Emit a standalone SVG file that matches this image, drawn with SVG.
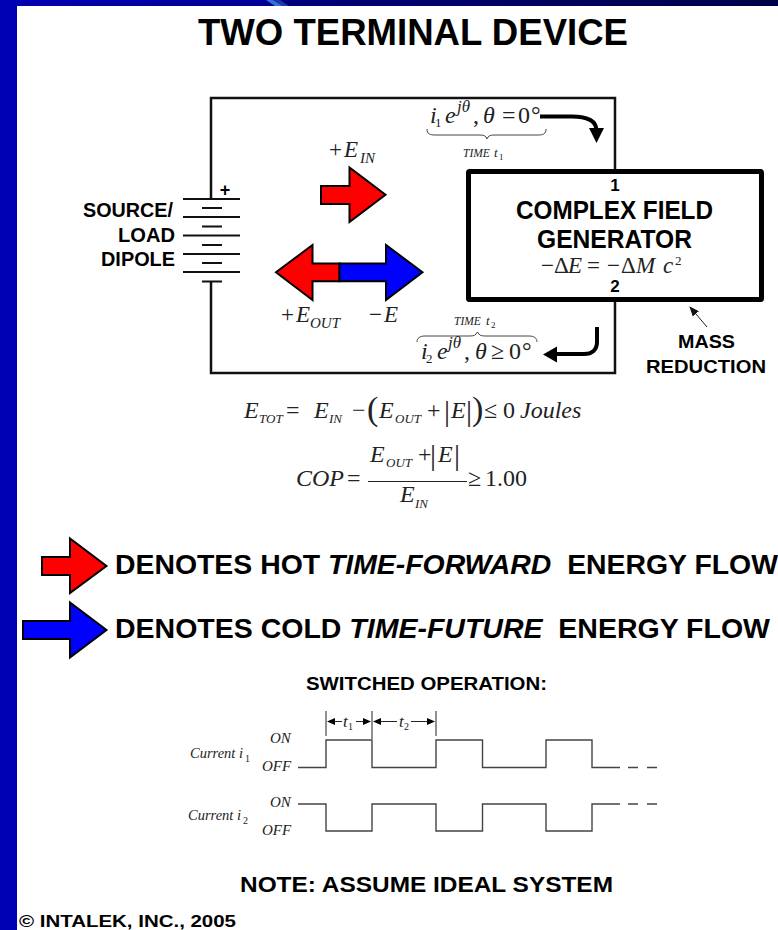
<svg xmlns="http://www.w3.org/2000/svg" width="778" height="930" viewBox="0 0 778 930">
<style>
.b{font-family:"Liberation Sans",Arial,sans-serif;font-weight:700;fill:#000;white-space:pre}
.s{font-family:"Liberation Serif","Times New Roman",serif;fill:#222}
.i{font-style:italic}
.wire{fill:none;stroke:#111;stroke-width:2.5}
.plate{fill:none;stroke:#111;stroke-width:2}
.fat{fill:none;stroke:#000;stroke-width:4}
.wave{fill:none;stroke:#444;stroke-width:1.4}
.thin{fill:none;stroke:#222;stroke-width:1}
.brace{fill:none;stroke:#444;stroke-width:1}
.red{fill:#f00;stroke:#000;stroke-width:2;stroke-linejoin:miter}
.blue{fill:#00f;stroke:#000;stroke-width:2;stroke-linejoin:miter}
</style>
<defs>
<linearGradient id="topbar" x1="0" x2="1" y1="0" y2="0">
<stop offset="0" stop-color="#0000b4"/><stop offset="0.33" stop-color="#000096"/><stop offset="0.38" stop-color="#00007a"/><stop offset="1" stop-color="#000048"/>
</linearGradient>
<marker id="thinhead" markerWidth="10" markerHeight="10" refX="9" refY="5" orient="auto" markerUnits="userSpaceOnUse"><path d="M0 1L10 5L0 9Z" fill="#111"/></marker>
</defs>
<rect width="778" height="930" fill="#fff"/>
<g id="frame">
<rect x="0" y="0" width="778" height="6" fill="url(#topbar)"/>
<rect x="0" y="0" width="17" height="930" fill="#0000b4"/>
<path d="M266 0H273L283 6H275Z" fill="#3a6ce0"/>
<path d="M273 0H280L289 6H283Z" fill="#1c3aa0"/>
</g>
<text id="title" class="b" x="198" y="44.500" font-size="37" textLength="430" lengthAdjust="spacingAndGlyphs">TWO TERMINAL DEVICE</text>

<g id="connectors">
<path class="wire" d="M211 199V98H615V169M615 302V373H211V281"/>
<path class="fat" d="M540 116.500H572C586 116.500 596 120 596.500 130"/>
<path d="M589 128H604L596.500 143Z" fill="#000"/>
<path class="fat" d="M597 327V342C597 350 592 354 584 354H556"/>
<path d="M557 346.500V362.500L543 354.500Z" fill="#000"/>
<path class="thin" d="M707 327L690 307" marker-end="url(#thinhead)"/>
</g>

<g id="battery">
<path class="plate" d="M183 199H240M183 217H240M183 235.500H240M183 254H240M183 272H240"/>
<path class="plate" d="M202 208H222M202 226.500H222M202 245H222M202 263H222M202 281.500H222"/>
<text class="b" x="225" y="196" font-size="18" text-anchor="middle">+</text>
<text class="b" x="83" y="216.500" font-size="20" textLength="90" lengthAdjust="spacingAndGlyphs">SOURCE/</text>
<text class="b" x="118" y="241.500" font-size="20" textLength="57" lengthAdjust="spacingAndGlyphs">LOAD</text>
<text class="b" x="101" y="265.500" font-size="20" textLength="74" lengthAdjust="spacingAndGlyphs">DIPOLE</text>
</g>

<g id="energy-in">
<path class="red" d="M321 186H349.500V167.500L385.500 194.800L349.500 222V204H321Z"/>
<text class="s" x="329" y="157" font-size="23">+</text>
<text class="s i" x="344" y="157" font-size="23">E</text>
<text class="s i" x="360" y="163" font-size="15">IN</text>
</g>

<g id="energy-out">
<path class="red" d="M339.500 263.500H312.500V245L276 272.300L312.500 300V281.300H339.500Z"/>
<path class="blue" d="M339.500 263.500H386V245L422.500 272.300L386 300V281.300H339.500Z"/>
<text class="s" x="281" y="322" font-size="23">+</text>
<text class="s i" x="296" y="322" font-size="23">E</text>
<text class="s i" x="310" y="328" font-size="15">OUT</text>
<text class="s" x="369" y="322" font-size="23">−</text>
<text class="s i" x="384" y="322" font-size="23">E</text>
</g>

<g id="current-i1">
<text class="s i" x="430" y="123" font-size="24">i</text>
<text class="s" x="435" y="127" font-size="13">1</text>
<text class="s i" x="445" y="123" font-size="24">e</text>
<text class="s i" x="457" y="112" font-size="17">jθ</text>
<text class="s" x="473" y="123" font-size="24">,</text>
<text class="s i" x="483" y="123" font-size="24">θ</text>
<text class="s" x="502" y="123" font-size="24">=</text>
<text class="s" x="518" y="123" font-size="24">0</text>
<text class="s" x="531" y="123" font-size="24">°</text>
<path class="brace" d="M427 129C427 134 430 135 435 135H480C484 135 486 136 487 139C488 136 490 135 494 135H538C543 135 546 134 546 129"/>
<text class="s i" x="463" y="157" font-size="11.500">TIME</text>
<text class="s i" x="494" y="157" font-size="13">t</text>
<text class="s" x="499" y="160" font-size="9">1</text>
</g>

<g id="current-i2">
<text class="s i" x="454" y="325" font-size="11.500">TIME</text>
<text class="s i" x="486" y="325" font-size="13">t</text>
<text class="s" x="491" y="328" font-size="9">2</text>
<path class="brace" d="M417 342C417 338 420 336 425 336H470C474 336 476 335 477.500 332C479 335 481 336 485 336H529C534 336 537 338 537 342"/>
<text class="s i" x="421" y="359" font-size="24">i</text>
<text class="s" x="426" y="363" font-size="13">2</text>
<text class="s i" x="437" y="359" font-size="24">e</text>
<text class="s i" x="448" y="348" font-size="17">jθ</text>
<text class="s" x="464" y="359" font-size="24">,</text>
<text class="s i" x="475" y="359" font-size="24">θ</text>
<text class="s" x="491" y="359" font-size="24">≥</text>
<text class="s" x="509" y="359" font-size="24">0</text>
<text class="s" x="522" y="359" font-size="24">°</text>
</g>

<g id="complex-field-generator">
<rect x="468.500" y="171.500" width="293" height="128" rx="1" fill="#fff" stroke="#000" stroke-width="5"/>
<text class="b" x="615" y="191" font-size="17" text-anchor="middle">1</text>
<text class="b" x="516" y="219" font-size="25" textLength="197" lengthAdjust="spacingAndGlyphs">COMPLEX FIELD</text>
<text class="b" x="537" y="248" font-size="25" textLength="155" lengthAdjust="spacingAndGlyphs">GENERATOR</text>
<text class="s" x="541" y="273" font-size="23">−</text>
<text class="s" x="554" y="273" font-size="23">Δ</text>
<text class="s i" x="568" y="273" font-size="23">E</text>
<text class="s" x="587" y="273" font-size="23">=</text>
<text class="s" x="607" y="273" font-size="23">−</text>
<text class="s" x="621" y="273" font-size="23">Δ</text>
<text class="s i" x="636" y="273" font-size="23">M</text>
<text class="s i" x="663" y="273" font-size="23">c</text>
<text class="s" x="675" y="265" font-size="13">2</text>
<text class="b" x="615" y="292" font-size="17" text-anchor="middle">2</text>
</g>

<g id="mass-reduction">
<text class="b" x="678" y="348" font-size="19" textLength="57" lengthAdjust="spacingAndGlyphs">MASS</text>
<text class="b" x="646" y="372.500" font-size="19" textLength="120" lengthAdjust="spacingAndGlyphs">REDUCTION</text>
</g>

<g id="equation-total">
<text class="s i" x="244" y="418" font-size="24">E</text>
<text class="s i" x="259" y="423" font-size="13">TOT</text>
<text class="s" x="286" y="418" font-size="24">=</text>
<text class="s i" x="314" y="418" font-size="24">E</text>
<text class="s i" x="329" y="423" font-size="13">IN</text>
<text class="s" x="352" y="418" font-size="24">−</text>
<text class="s" x="367" y="420" font-size="34">(</text>
<text class="s i" x="379" y="418" font-size="24">E</text>
<text class="s i" x="395" y="423" font-size="13">OUT</text>
<text class="s" x="427" y="418" font-size="24">+</text>
<text class="s" x="444" y="421" font-size="30">|</text>
<text class="s i" x="451" y="418" font-size="24">E</text>
<text class="s" x="466" y="421" font-size="30">|</text>
<text class="s" x="472" y="420" font-size="34">)</text>
<text class="s" x="484" y="418" font-size="24">≤</text>
<text class="s" x="503" y="418" font-size="24">0</text>
<text class="s i" x="520" y="418" font-size="24">Joules</text>
</g>

<g id="equation-cop">
<text class="s i" x="296" y="486" font-size="24">COP</text>
<text class="s" x="347" y="486" font-size="24">=</text>
<text class="s i" x="370" y="462" font-size="24">E</text>
<text class="s i" x="386" y="467" font-size="13">OUT</text>
<text class="s" x="418" y="462" font-size="24">+</text>
<text class="s" x="430" y="465" font-size="30">|</text>
<text class="s i" x="438" y="462" font-size="24">E</text>
<text class="s" x="454" y="465" font-size="30">|</text>
<path d="M368 481.500H467" stroke="#222" stroke-width="1.200" fill="none"/>
<text class="s i" x="400" y="502" font-size="24">E</text>
<text class="s i" x="415" y="508" font-size="13">IN</text>
<text class="s" x="468" y="486" font-size="24">≥</text>
<text class="s" x="485" y="486" font-size="24">1.00</text>
</g>

<g id="legend-hot">
<path class="red" d="M42 557H70V538.500L106.500 566L70 593V575H42Z"/>
<text class="b" x="115" y="573.500" font-size="27" textLength="663" lengthAdjust="spacingAndGlyphs">DENOTES HOT <tspan class="i">TIME-FORWARD</tspan>  ENERGY FLOW</text>
</g>
<g id="legend-cold">
<path class="blue" d="M23 621H70V602.500L106.500 630L70 657.500V639H23Z"/>
<text class="b" x="115" y="637.500" font-size="27" textLength="655" lengthAdjust="spacingAndGlyphs">DENOTES COLD <tspan class="i">TIME-FUTURE</tspan>  ENERGY FLOW</text>
</g>

<g id="switched-operation">
<text class="b" x="306" y="690" font-size="19" textLength="241" lengthAdjust="spacingAndGlyphs">SWITCHED OPERATION:</text>
<path class="thin" d="M326 711V736M372 711V739M436 711V736"/>
<path d="M327 721.500L335 718V725ZM371 721.500L363 718V725ZM373 721.500L381 718V725ZM435 721.500L427 718V725Z" fill="#000"/>
<path class="thin" d="M334 721.500H342M356 721.500H364M380 721.500H397M411 721.500H428"/>
<text class="s i" x="343" y="727" font-size="17">t</text>
<text class="s" x="348" y="730" font-size="10">1</text>
<text class="s i" x="399" y="727" font-size="17">t</text>
<text class="s" x="404" y="730" font-size="10">2</text>
<path class="wave" d="M298 767.500H326V740H372V767.500H436V740H482.500V767.500H546V740H592V767.500H620M628 767.500H638M647 767.500H657"/>
<path class="wave" d="M298 804H326V831H372V804H436V831H482.500V804H546V831H592V804H620M628 804H638M647 804H657"/>
<text class="s i" x="190" y="758" font-size="14.500">Current i</text>
<text class="s" x="245" y="762" font-size="10">1</text>
<text class="s i" x="270" y="743" font-size="15">ON</text>
<text class="s i" x="262" y="771" font-size="15">OFF</text>
<text class="s i" x="188" y="820" font-size="14.500">Current i</text>
<text class="s" x="243" y="824" font-size="10">2</text>
<text class="s i" x="270" y="807" font-size="15">ON</text>
<text class="s i" x="262" y="835" font-size="15">OFF</text>
</g>

<text id="note" class="b" x="240" y="892" font-size="22.500" textLength="373" lengthAdjust="spacingAndGlyphs">NOTE: ASSUME IDEAL SYSTEM</text>
<text id="copyright" class="b" x="19" y="927" font-size="17" textLength="217" lengthAdjust="spacingAndGlyphs">© INTALEK, INC., 2005</text>
</svg>
